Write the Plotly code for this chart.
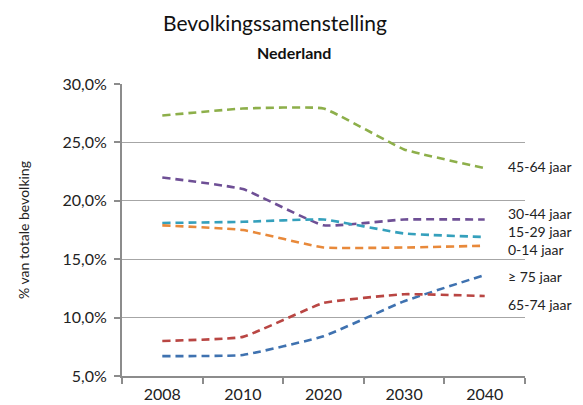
import plotly.graph_objects as go

years = ["2008", "2010", "2020", "2030", "2040"]
series_names = ["45-64 jaar", "30-44 jaar", "15-29 jaar", "0-14 jaar", "≥ 75 jaar", "65-74 jaar"]
v_45_64 = [27.3, 27.9, 27.9, 24.4, 22.8]
v_30_44 = [22.0, 21.0, 17.9, 18.4, 18.4]
v_15_29 = [18.1, 18.2, 18.4, 17.2, 16.9]
v_0_14 = [17.9, 17.5, 16.0, 16.0, 16.15]
v_75plus = [6.7, 6.8, 8.4, 11.4, 13.65]
v_65_74 = [8.0, 8.35, 11.25, 12.0, 11.85]
label_y = [22.9, 18.9, 17.35, 15.8, 13.5, 11.15]

colors = ["#8DAF4A", "#6E4F95", "#35A0BC", "#E8893A", "#3F72B0", "#B94643"]
values = [v_45_64, v_30_44, v_15_29, v_0_14, v_75plus, v_65_74]

FONT = "Lato"
W, H = 583, 405
L, R, T, B = 122, 58, 84, 29
PW, PH = W - L - R, H - T - B


def px_x(px):
    return (px - L) / PW


def px_y(py):
    return (H - B - py) / PH


fig = go.Figure()
for name, vals, col in zip(series_names, values, colors):
    fig.add_trace(go.Scatter(
        x=years, y=vals, mode="lines", name=name,
        line=dict(color=col, width=2.6, dash="8px,5px", shape="spline", smoothing=0.35),
        showlegend=False,
    ))

for name, ly in zip(series_names, label_y):
    fig.add_annotation(xref="paper", yref="y", x=px_x(506), y=ly, text=name,
                       showarrow=False, xanchor="left", yanchor="middle",
                       font=dict(family=FONT, size=14, color="#222222"))

fig.add_annotation(xref="paper", yref="paper", x=px_x(274.5), y=px_y(22),
                   text="Bevolkingssamenstelling", showarrow=False,
                   xanchor="center", yanchor="middle",
                   font=dict(family=FONT, size=21, color="#111111"))
fig.add_annotation(xref="paper", yref="paper", x=px_x(293.5), y=px_y(53),
                   text="<b>Nederland</b>", showarrow=False,
                   xanchor="center", yanchor="middle",
                   font=dict(family=FONT, size=16, color="#111111"))

fig.update_layout(
    width=W, height=H,
    margin=dict(l=L, r=R, t=T, b=B, pad=0, autoexpand=False),
    paper_bgcolor="white", plot_bgcolor="white",
    font=dict(family=FONT, size=14, color="#222222"),
    separators=",.",
)
fig.update_xaxes(
    type="category", tickson="boundaries", ticks="outside", ticklen=6,
    tickcolor="#8c8c8c", tickwidth=1.5,
    showline=True, linecolor="#8c8c8c", linewidth=2,
    showgrid=False, range=[-0.5, 4.5], automargin=False,
    ticklabelstandoff=3,
    tickfont=dict(family=FONT, size=16, color="#222222"),
)
fig.update_yaxes(
    range=[5, 30], dtick=5, tickformat=".1f", ticksuffix="%",
    ticks="outside", ticklen=6, tickcolor="#8c8c8c", tickwidth=1.5,
    showline=True, linecolor="#8c8c8c", linewidth=2,
    showgrid=True, gridcolor="#a6a6a6", gridwidth=1.3,
    zeroline=False, automargin=False,
    ticklabelstandoff=4,
    title=dict(text="% van totale bevolking", font=dict(family=FONT, size=14, color="#222222"), standoff=30),
    tickfont=dict(family=FONT, size=16, color="#222222"),
)
fig.write_html("out.html")
